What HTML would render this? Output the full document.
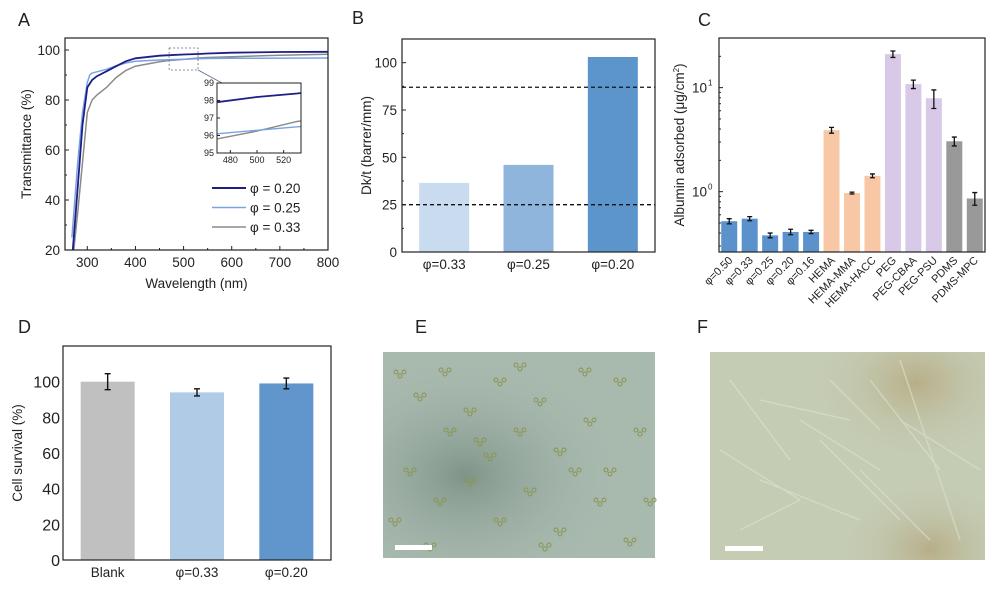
<!DOCTYPE html>
<html><head><meta charset="utf-8"><style>
html,body{margin:0;padding:0;background:#fff;width:998px;height:594px;overflow:hidden;}
svg{display:block;font-family:"Liberation Sans",sans-serif;}
</style></head><body>
<svg id="fig" width="998" height="594" viewBox="0 0 998 594">
<defs>
<clipPath id="clipA"><rect x="65" y="38" width="263" height="212"/></clipPath>
<clipPath id="clipInset"><rect x="217" y="83" width="84" height="70"/></clipPath>
<radialGradient id="gE1" cx="30%" cy="60%" r="60%"><stop offset="0" stop-color="#7f9488"/><stop offset="1" stop-color="#a9bab0" stop-opacity="0"/></radialGradient>
<radialGradient id="gF1" cx="75%" cy="15%" r="40%"><stop offset="0" stop-color="#b8ae88"/><stop offset="1" stop-color="#c6cdb4" stop-opacity="0"/></radialGradient>
<radialGradient id="gF2" cx="80%" cy="95%" r="35%"><stop offset="0" stop-color="#b7ad88"/><stop offset="1" stop-color="#c6cdb4" stop-opacity="0"/></radialGradient>
</defs>
<g id="pA"></g>
<g id="pB"></g>
<g id="pC"></g>
<g id="pD"></g>
<g id="pE">
  <text x="415" y="333" font-size="18" fill="#222">E</text>
  <rect x="383" y="352" width="272" height="206" fill="#a8b9ae"/>
  <rect x="383" y="352" width="272" height="206" fill="url(#gE1)"/>
  <g id="cellsE"></g>
  <rect x="395" y="545" width="37" height="5" fill="#fff"/>
</g>
<g id="pF">
  <text x="697" y="333" font-size="18" fill="#222">F</text>
  <rect x="710" y="352" width="275" height="208" fill="#c4ccb4"/>
  <rect x="710" y="352" width="275" height="208" fill="url(#gF1)"/>
  <rect x="710" y="352" width="275" height="208" fill="url(#gF2)"/>
  <g id="fibF" stroke="#dce1cf" stroke-width="1.5" fill="none" opacity="0.6">
    <path d="M730 380 L790 460 M760 400 L850 420 M800 420 L880 470 M720 450 L800 500 M820 440 L900 520 M870 380 L940 470 M900 360 L960 540 M760 480 L860 520 M830 380 L880 430 M900 420 L980 470 M740 530 L800 500 M860 470 L930 540"/>
  </g>
  <rect x="725" y="546" width="38" height="5" fill="#fff"/>
</g>
</svg>
<script>
const NS='http://www.w3.org/2000/svg';
function mk(parent,tag,attrs,text){const e=document.createElementNS(NS,tag);for(const k in attrs)e.setAttribute(k,attrs[k]);if(text!==undefined)e.textContent=text;parent.appendChild(e);return e;}

// ---------- Panel A data ----------
const wlA20=[270,280,290,300,310,320,340,360,380,400,450,470,500,530,550,600,700,800];
const tA20=[20,45,70,85,88,89.5,91.5,93.5,95.5,96.7,97.7,97.9,98.2,98.4,98.6,98.9,99.2,99.3];
const wlA25=[268,280,290,300,305,310,320,340,360,380,400,450,470,500,530,550,600,800];
const tA25=[25,55,75,87,90,90.8,91.3,92.3,93.7,94.8,95.5,96,96.1,96.3,96.5,96.6,96.7,96.8];
const wlA33=[272,280,290,300,310,320,340,360,380,400,450,470,500,530,550,600,700,800];
const tA33=[20,35,55,75,80,82,85,89,91.8,93.5,95.3,95.8,96.25,96.8,97,97.3,97.9,98.3];
const seriesNamesA=['φ = 0.20','φ = 0.25','φ = 0.33'];
const xTicksA=[300,400,500,600,700,800];
const yTicksA=[20,40,60,80,100];
const xTicksInset=[480,500,520];
const yTicksInset=[95,96,97,98,99];

// ---------- Panel B data ----------
const catB=['φ=0.33','φ=0.25','φ=0.20'];
const valB=[36.5,46,103];
const refLinesB=[87,25];
const yTicksB=[0,25,50,75,100];

// ---------- Panel C data ----------
const catC=['φ=0.50','φ=0.33','φ=0.25','φ=0.20','φ=0.16','HEMA','HEMA-MMA','HEMA-HACC','PEG','PEG-CBAA','PEG-PSU','PDMS','PDMS-MPC'];
const valC=[0.52,0.55,0.38,0.41,0.41,3.9,0.97,1.42,21,10.8,7.9,3.05,0.86];
const errC=[0.03,0.025,0.02,0.025,0.015,0.25,0.02,0.06,1.5,1.0,1.6,0.3,0.12];
const groupC=[0,0,0,0,0,1,1,1,2,2,2,3,3];

// ---------- Panel D data ----------
const catD=['Blank','φ=0.33','φ=0.20'];
const valD=[100,94,99];
const errD=[4.5,2,3];
const yTicksD=[0,20,40,60,80,100];

const TXT='#222';

// ===== Panel A =====
(function(){
  const g=document.getElementById('pA');
  const L=65,R=328,T=38,B=250, x0=253.7,x1=800, y0=20,y1=104.8;
  const sx=v=>L+(v-x0)/(x1-x0)*(R-L), sy=v=>B-(v-y0)/(y1-y0)*(B-T);
  let e=mk(g,'text',{x:18,y:26,'font-size':18,fill:TXT},'A');
  
  const cols=['#1c1f85','#7aa3e3','#8a8a8a'];
  const ws=[wlA20,wlA25,wlA33], ts=[tA20,tA25,tA33];
  const lg=mk(g,'g',{'clip-path':'url(#clipA)'});
  [2,1,0].forEach(i=>{
    const d=ws[i].map((w,j)=>(j?'L':'M')+sx(w).toFixed(1)+' '+sy(ts[i][j]).toFixed(1)).join(' ');
    const p=mk(lg,'path',{d,fill:'none',stroke:cols[i],'stroke-width':i==0?1.8:1.5});
    
  });
  e=mk(g,'rect',{x:L,y:T,width:R-L,height:B-T,fill:'none',stroke:'#222','stroke-width':1.2});
  
  xTicksA.forEach(v=>{mk(g,'line',{x1:sx(v),x2:sx(v),y1:B,y2:B-4,stroke:'#222'});
    e=mk(g,'text',{x:sx(v),y:B+17,'font-size':13.5,fill:TXT,'text-anchor':'middle'},v);
    
    if(v<800)mk(g,'line',{x1:sx(v+50),x2:sx(v+50),y1:B,y2:B-2,stroke:'#222'});});
  yTicksA.forEach(v=>{mk(g,'line',{x1:L,x2:L+4,y1:sy(v),y2:sy(v),stroke:'#222'});
    e=mk(g,'text',{x:L-5,y:sy(v)+5,'font-size':13.5,fill:TXT,'text-anchor':'end'},v);
    
    if(v<100)mk(g,'line',{x1:L,x2:L+2,y1:sy(v+10),y2:sy(v+10),stroke:'#222'});});
  e=mk(g,'text',{x:(L+R)/2,y:288,'font-size':13.5,fill:TXT,'text-anchor':'middle'},'Wavelength (nm)');
  
  e=mk(g,'text',{x:0,y:0,'font-size':13.5,fill:TXT,'text-anchor':'middle',transform:`translate(31,${(T+B)/2}) rotate(-90)`},'Transmittance (%)');
  
  // zoom box
  e=mk(g,'rect',{x:sx(470),y:sy(100.8),width:sx(530)-sx(470),height:sy(92)-sy(100.8),fill:'none',stroke:'#5a6a8a','stroke-dasharray':'2,2','stroke-width':0.8});
  
  mk(g,'line',{x1:sx(530),y1:sy(92),x2:222,y2:83,stroke:'#5a6a8a','stroke-width':0.8});
  // inset
  const iL=217,iR=301,iT=83,iB=153, ix=v=>iL+(v-470)/(533-470)*(iR-iL), iy=v=>iB-(v-95)/(99-95)*(iB-iT);
  mk(g,'rect',{x:iL,y:iT,width:iR-iL,height:iB-iT,fill:'#fff'});
  const ig=mk(g,'g',{'clip-path':'url(#clipInset)'});
  [2,1,0].forEach(i=>{
    const d=ws[i].map((w,j)=>(j?'L':'M')+ix(w).toFixed(1)+' '+iy(ts[i][j]).toFixed(1)).join(' ');
    mk(ig,'path',{d,fill:'none',stroke:cols[i],'stroke-width':i==0?1.8:1.4});
  });
  e=mk(g,'rect',{x:iL,y:iT,width:iR-iL,height:iB-iT,fill:'none',stroke:'#222','stroke-width':1});
  
  xTicksInset.forEach(v=>{mk(g,'line',{x1:ix(v),x2:ix(v),y1:iB,y2:iB-3,stroke:'#222'});
    mk(g,'text',{x:ix(v),y:iB+10,'font-size':9,fill:TXT,'text-anchor':'middle'},v);});
  yTicksInset.forEach(v=>{mk(g,'line',{x1:iL,x2:iL+3,y1:iy(v),y2:iy(v),stroke:'#222'});
    mk(g,'text',{x:iL-3,y:iy(v)+3,'font-size':9,fill:TXT,'text-anchor':'end'},v);});
  // legend
  seriesNamesA.forEach((n,i)=>{const y=188+i*19.5;
    const lgE=mk(g,'g',{});
    mk(lgE,'line',{x1:212,x2:246,y1:y,y2:y,stroke:cols[i],'stroke-width':i==0?2:1.5});
    mk(lgE,'text',{x:250,y:y+5,'font-size':13.5,fill:TXT},n);});
})();

// ===== Panel B =====
(function(){
  const g=document.getElementById('pB');
  const L=402,R=655,T=39,B=252,ymax=112.5;
  const sy=v=>B-v/ymax*(B-T); const slot=(R-L)/3;
  let e=mk(g,'text',{x:352,y:24,'font-size':18,fill:TXT},'B');
  
  const cols=['#c9dcef','#8fb5dd','#5c94cc'];
  valB.forEach((v,i)=>{const cx=L+slot*(i+0.5);
    e=mk(g,'rect',{x:cx-25,y:sy(v),width:50,height:B-sy(v),fill:cols[i]});
    
    e=mk(g,'text',{x:cx,y:B+17,'font-size':13.5,fill:TXT,'text-anchor':'middle'},catB[i]);
    });
  refLinesB.forEach(v=>{e=mk(g,'line',{x1:L,x2:R,y1:sy(v),y2:sy(v),stroke:'#111','stroke-width':1.3,'stroke-dasharray':'4,3'});
    });
  mk(g,'rect',{x:L,y:T,width:R-L,height:B-T,fill:'none',stroke:'#222','stroke-width':1.2});
  yTicksB.forEach(v=>{mk(g,'line',{x1:L,x2:L+4,y1:sy(v),y2:sy(v),stroke:'#222'});
    e=mk(g,'text',{x:L-5,y:sy(v)+5,'font-size':13.5,fill:TXT,'text-anchor':'end'},v);
    
    if(v<100)mk(g,'line',{x1:L,x2:L+2,y1:sy(v+12.5),y2:sy(v+12.5),stroke:'#222'});});
  e=mk(g,'text',{x:0,y:0,'font-size':13.5,fill:TXT,'text-anchor':'middle',transform:`translate(371,${(T+B)/2}) rotate(-90)`},'Dk/t (barrer/mm)');
  
})();

// ===== Panel C =====
(function(){
  const g=document.getElementById('pC');
  const L=719,R=985,T=38,B=252, lmin=Math.log10(0.263), lmax=Math.log10(30);
  const sy=v=>B-(Math.log10(v)-lmin)/(lmax-lmin)*(B-T); const slot=(R-L)/catC.length;
  let e=mk(g,'text',{x:698,y:26,'font-size':18,fill:TXT},'C');
  
  const cols=['#5b92cb','#f8c8a6','#d7c9e7','#999999'];
  valC.forEach((v,i)=>{const cx=L+slot*(i+0.5);
    e=mk(g,'rect',{x:cx-8,y:sy(v),width:16,height:B-sy(v),fill:cols[groupC[i]]});
    
    const y1=sy(v+errC[i]),y2=sy(v-errC[i]);
    e=mk(g,'path',{d:`M${cx} ${y1} V${y2} M${cx-2.5} ${y1} H${cx+2.5} M${cx-2.5} ${y2} H${cx+2.5}`,stroke:'#111','stroke-width':1.3,fill:'none'});
    
    e=mk(g,'text',{x:0,y:0,'font-size':11,fill:TXT,'text-anchor':'end',transform:`translate(${cx+4},${B+9}) rotate(-45)`},catC[i]);
    });
  mk(g,'rect',{x:L,y:T,width:R-L,height:B-T,fill:'none',stroke:'#222','stroke-width':1.2});
  [1,10].forEach((v,k)=>{mk(g,'line',{x1:L,x2:L+4,y1:sy(v),y2:sy(v),stroke:'#222'});
    e=mk(g,'text',{x:L-12,y:sy(v)+5,'font-size':13.5,fill:TXT,'text-anchor':'end'},'10');
    mk(g,'text',{x:L-11,y:sy(v)-2,'font-size':8,fill:TXT},k);});
  [0.3,0.4,0.5,0.6,0.7,0.8,0.9,2,3,4,5,6,7,8,9,20].forEach(v=>mk(g,'line',{x1:L,x2:L+2,y1:sy(v),y2:sy(v),stroke:'#222'}));
  e=mk(g,'text',{x:0,y:0,'font-size':13.5,fill:TXT,'text-anchor':'middle',transform:`translate(684,${(T+B)/2}) rotate(-90)`});
  
  e.innerHTML='Albumin adsorbed (μg/cm<tspan font-size="8" dy="-5">2</tspan><tspan dy="5">)</tspan>';
})();

// ===== Panel D =====
(function(){
  const g=document.getElementById('pD');
  const L=63,R=331,T=346,B=560,ymax=120;
  const sy=v=>B-v/ymax*(B-T); const slot=(R-L)/3;
  let e=mk(g,'text',{x:18,y:333,'font-size':18,fill:TXT},'D');
  
  const cols=['#c0c0c0','#afcbe6','#6096cc'];
  valD.forEach((v,i)=>{const cx=L+slot*(i+0.5);
    e=mk(g,'rect',{x:cx-27,y:sy(v),width:54,height:B-sy(v),fill:cols[i]});
    
    const y1=sy(v+errD[i]),y2=sy(v-errD[i]);
    e=mk(g,'path',{d:`M${cx} ${y1} V${y2} M${cx-3} ${y1} H${cx+3} M${cx-3} ${y2} H${cx+3}`,stroke:'#111','stroke-width':1.4,fill:'none'});
    
    e=mk(g,'text',{x:cx,y:B+17,'font-size':13.5,fill:TXT,'text-anchor':'middle'},catD[i]);
    });
  mk(g,'rect',{x:L,y:T,width:R-L,height:B-T,fill:'none',stroke:'#222','stroke-width':1.2});
  yTicksD.forEach(v=>{
    e=mk(g,'text',{x:L-3,y:sy(v)+6,'font-size':16,fill:TXT,'text-anchor':'end'},v);
    });
  e=mk(g,'text',{x:0,y:0,'font-size':13.5,fill:TXT,'text-anchor':'middle',transform:`translate(22,${(T+B)/2}) rotate(-90)`},'Cell survival (%)');
  
})();

// micrograph E texture (decorative cells)
(function(){
  const g=document.getElementById('cellsE');
  const pts=[[400,372],[420,395],[445,370],[470,410],[500,380],[520,430],[540,400],[560,450],[590,420],[620,380],[640,430],[410,470],[440,500],[470,480],[500,520],[530,490],[560,530],[600,500],[630,540],[480,440],[450,430],[520,365],[585,370],[610,470],[650,500],[395,520],[430,545],[575,470],[545,545],[490,455]];
  pts.forEach(p=>{for(let k=0;k<3;k++)mk(g,'circle',{cx:p[0]+k*4-4,cy:p[1]+(k%2)*4,r:2,fill:'none',stroke:'#8a9450','stroke-width':1});});
})();
</script>
</body></html>
